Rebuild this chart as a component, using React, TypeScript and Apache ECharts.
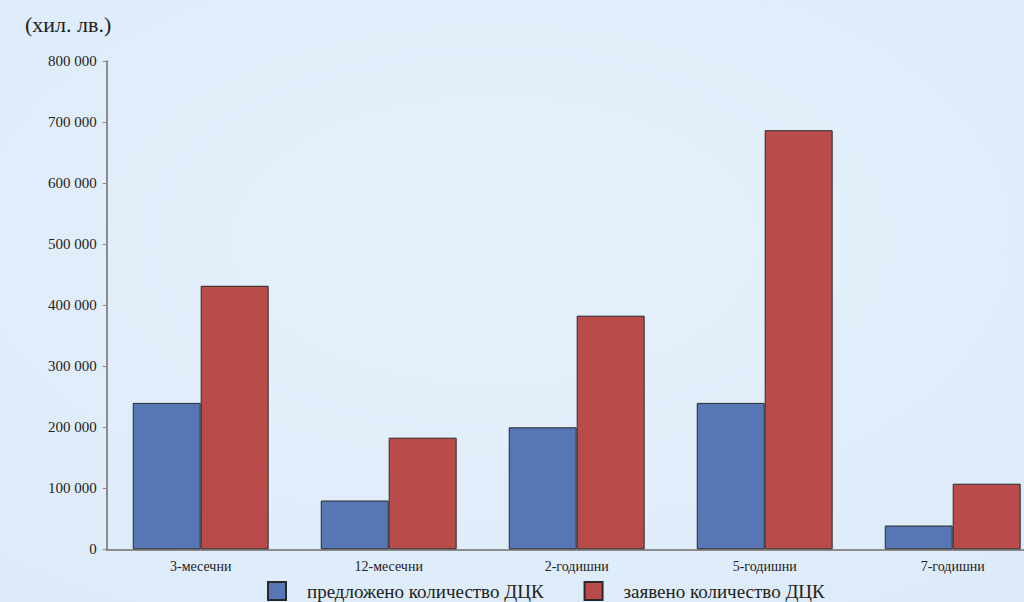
import React, { useEffect, useRef } from "react";
import * as echarts from "echarts";

// Държавни ценни книжа по матуритет (хил. лв.)
const categories = ["3-месечни", "12-месечни", "2-годишни", "5-годишни", "7-годишни"];
const offered = [240000, 80000, 200000, 240000, 39000];
const bids = [432000, 183000, 383000, 687000, 107500];
const seriesNames = ["предложено количество ДЦК", "заявено количество ДЦК"];
const yMax = 800000;
const yStep = 100000;

const FONT = "'Liberation Serif', 'Times New Roman', serif";

const fmt = (v: number) => {
  const s = String(Math.round(v));
  return s.replace(/\B(?=(\d{3})+(?!\d))/g, " ");
};

export default function App() {
  const ref = useRef<HTMLDivElement>(null);

  useEffect(() => {
    if (!ref.current) return;
    const chart = echarts.init(ref.current, undefined, { renderer: "svg" });
    chart.setOption({
      animation: false,
      backgroundColor: {
        type: "radial",
        x: 0.45,
        y: 0.4,
        r: 0.8,
        colorStops: [
          { offset: 0, color: "#e6f1fc" },
          { offset: 1, color: "#dceaf8" },
        ],
      },
      title: {
        text: "(хил. лв.)",
        left: 20,
        top: 8,
        textStyle: { fontFamily: FONT, fontSize: 22, fontWeight: "normal", color: "#222" },
      },
      legend: {
        left: 267,
        top: 581,
        padding: 0,
        icon: "rect",
        itemWidth: 18,
        itemHeight: 18,
        itemGap: 40,
        data: seriesNames,
        textStyle: {
          fontFamily: FONT,
          fontSize: 19,
          color: "#222",
          padding: [0, 0, 0, 16],
        },
      },
      grid: {
        left: 106.7,
        right: 53.3,
        top: 61.3,
        bottom: 52.7,
        containLabel: false,
      },
      xAxis: {
        type: "category",
        data: categories,
        axisLine: { lineStyle: { color: "#8c8c8c", width: 2 } },
        axisTick: { show: false },
        axisLabel: { fontFamily: FONT, fontSize: 14, color: "#222", margin: 10 },
      },
      yAxis: {
        type: "value",
        min: 0,
        max: yMax,
        interval: yStep,
        axisLine: { show: true, lineStyle: { color: "#8c8c8c", width: 2 } },
        axisTick: { show: true, length: 4, lineStyle: { color: "#8c8c8c", width: 1 } },
        splitLine: { show: false },
        axisLabel: {
          fontFamily: FONT,
          fontSize: 15,
          color: "#222",
          margin: 10,
          formatter: (v: number) => fmt(v),
        },
      },
      series: [
        {
          name: seriesNames[0],
          type: "bar",
          data: offered,
          barGap: "0%",
          barCategoryGap: "27.7%",
          itemStyle: { color: "#5677b3", borderColor: "#2a2a2a", borderWidth: 1 },
        },
        {
          name: seriesNames[1],
          type: "bar",
          data: bids,
          itemStyle: { color: "#b94b4b", borderColor: "#2a2a2a", borderWidth: 1 },
        },
      ],
    });
    return () => chart.dispose();
  }, []);

  return (
    <div
      style={{
        position: "absolute",
        left: 0,
        top: 0,
        width: 1024,
        height: 602,
        overflow: "hidden",
      }}
    >
      <div ref={ref} style={{ width: 1100, height: 602 }} />
    </div>
  );
}
